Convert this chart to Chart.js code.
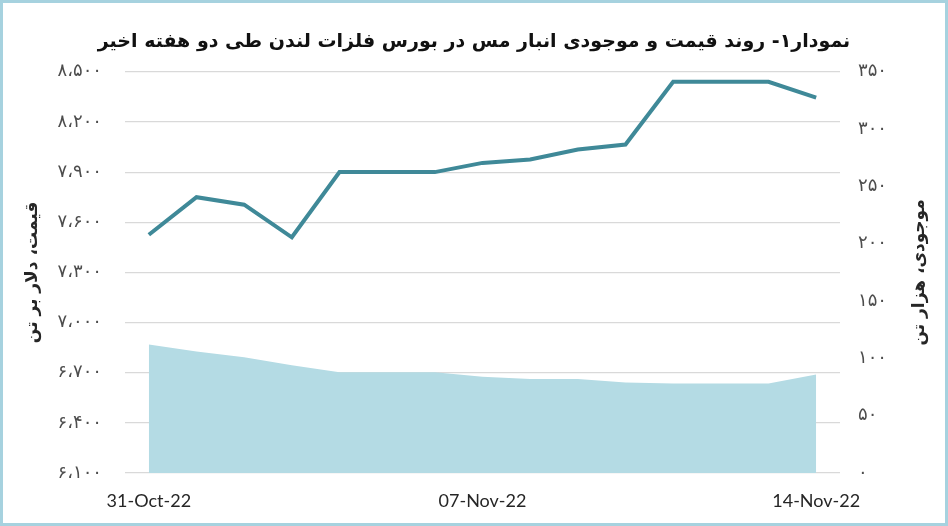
<!DOCTYPE html>
<html>
<head>
<meta charset="utf-8">
<script src="https://cdn.jsdelivr.net/npm/chart.js@4.4.0/dist/chart.umd.min.js"></script>
<style>
  html, body { margin: 0; padding: 0; background: #fff; }
  #wrap { width: 948px; height: 526px; position: relative; }
</style>
</head>
<body>
<div id="wrap"><canvas id="c" width="948" height="526"></canvas></div>
<script>
// data
const dates = ['31-Oct-22','01-Nov-22','02-Nov-22','03-Nov-22','04-Nov-22','05-Nov-22','06-Nov-22',
  '07-Nov-22','08-Nov-22','09-Nov-22','10-Nov-22','11-Nov-22','12-Nov-22','13-Nov-22','14-Nov-22'];
const shownDates = ['31-Oct-22','07-Nov-22','14-Nov-22'];
const price = [7525, 7750, 7705, 7510, 7900, 7900, 7900, 7955, 7975, 8035, 8065, 8440, 8440, 8440, 8345];
const stock = [112, 106, 101, 94, 88, 88, 88, 84, 82, 82, 79, 78, 78, 78, 86];

const chartTitle = 'نمودار۱- روند قیمت و موجودی انبار مس در بورس فلزات لندن طی دو هفته اخیر';
const leftTitle = 'قیمت، دلار بر تن';
const rightTitle = 'موجودی، هزار تن';

const faDigits = '۰۱۲۳۴۵۶۷۸۹';
function toFa(n) {
  return String(n).replace(/\B(?=(\d{3})+(?!\d))/g, '،').replace(/\d/g, d => faDigits[d]);
}

// axis titles (both read top to bottom) and the frame
const extras = {
  id: 'extras',
  afterDraw(chart) {
    const ctx = chart.ctx;
    const a = chart.chartArea;
    const midY = (a.top + a.bottom) / 2;
    ctx.save();
    ctx.fillStyle = '#262626';
    ctx.font = 'bold 17px "DejaVu Sans"';
    ctx.textAlign = 'center';
    ctx.textBaseline = 'middle';
    [[33, leftTitle], [920, rightTitle]].forEach(([x, t]) => {
      ctx.save();
      ctx.translate(x, midY);
      ctx.rotate(-Math.PI / 2);
      ctx.fillText(t, 0, 0);
      ctx.restore();
    });
    ctx.strokeStyle = '#a6d2df';
    ctx.lineWidth = 3;
    ctx.strokeRect(1.5, 1.5, chart.width - 3, chart.height - 3);
    ctx.restore();
  }
};

new Chart(document.getElementById('c'), {
  type: 'line',
  data: {
    labels: dates,
    datasets: [
      {
        label: 'price',
        data: price,
        yAxisID: 'y',
        borderColor: '#3f8998',
        borderWidth: 4,
        pointRadius: 0,
        tension: 0,
        fill: false,
        order: 0
      },
      {
        label: 'stock',
        data: stock,
        yAxisID: 'y1',
        borderWidth: 0,
        borderColor: 'rgba(0,0,0,0)',
        backgroundColor: '#b4dbe4',
        pointRadius: 0,
        tension: 0,
        fill: 'origin',
        order: 1
      }
    ]
  },
  options: {
    responsive: false,
    animation: false,
    layout: { padding: 0 },
    plugins: {
      legend: { display: false },
      tooltip: { enabled: false },
      title: {
        display: true,
        text: chartTitle,
        color: '#111',
        font: { family: '"DejaVu Sans"', size: 19, weight: 'bold' },
        padding: { top: 31, bottom: 18 }
      }
    },
    scales: {
      x: {
        offset: true,
        grid: { display: false, drawTicks: false },
        border: { display: false },
        ticks: {
          autoSkip: false,
          maxRotation: 0,
          padding: 17,
          color: '#262626',
          font: { family: 'Lato', size: 18 },
          callback: function (v, i) {
            const l = this.getLabelForValue(v);
            return shownDates.includes(l) ? l : '';
          }
        },
        afterFit: s => { s.height = 53; }
      },
      y: {
        position: 'left',
        min: 6100,
        max: 8500,
        grid: { color: '#d9d9d9', lineWidth: 1.2, drawTicks: false },
        border: { display: false },
        ticks: {
          stepSize: 300,
          padding: 23,
          color: '#4d4d4d',
          font: { family: '"DejaVu Sans"', size: 18 },
          callback: v => toFa(v)
        },
        afterFit: s => { s.width = 125; }
      },
      y1: {
        position: 'right',
        min: 0,
        max: 350,
        grid: { display: false, drawTicks: false },
        border: { display: false },
        ticks: {
          stepSize: 50,
          padding: 18,
          color: '#4d4d4d',
          font: { family: '"DejaVu Sans"', size: 18 },
          callback: v => toFa(v)
        },
        afterFit: s => { s.width = 108; }
      }
    }
  },
  plugins: [extras]
});
</script>
</body>
</html>
